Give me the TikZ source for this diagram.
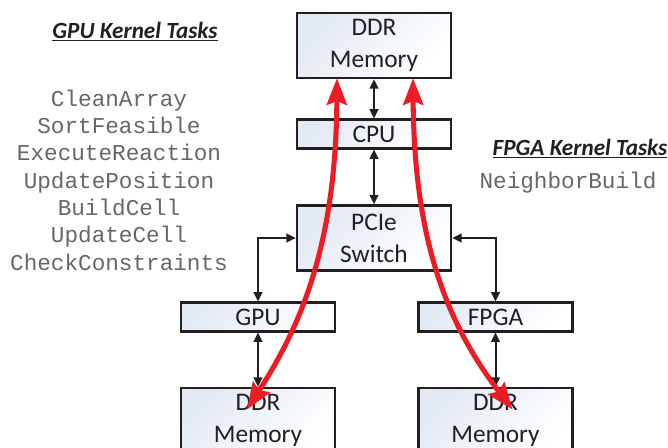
\documentclass[tikz,border=0pt]{standalone}
\usepackage{fontspec}
\setmainfont{Carlito}
\setmonofont{Liberation Mono}
\usetikzlibrary{arrows.meta}
\definecolor{boxline}{HTML}{231F20}
\definecolor{boxfill}{HTML}{E2E9F3}
\definecolor{taskgray}{HTML}{666666}
\definecolor{flowred}{HTML}{ED1C24}
\begin{document}
\begin{tikzpicture}[
    x=0.75pt, y=-0.75pt,
    block/.style={rectangle, draw=boxline, line width=1.8pt, left color=boxfill, right color=white, shading angle=45, minimum width=115.5pt, minimum height=48.75pt, align=center, font=\fontsize{19}{24}\selectfont, text=boxline},
    slim/.style={block, minimum height=21.5pt},
    arrow/.style={{Triangle[length=7pt,width=6.5pt]}-{Triangle[length=7pt,width=6.5pt]}, line width=1.5pt, draw=boxline},
    redarrow/.style={{Stealth[length=20pt,width=15pt,inset=3pt]}-{Stealth[length=20pt,width=15pt,inset=3pt]}, line width=3.8pt, draw=flowred},
    title/.style={font=\fontsize{17.4}{20}\selectfont\bfseries\itshape, text=boxline},
    tasks/.style={font=\fontsize{17}{20.5}\selectfont\ttfamily, text=taskgray, align=center}
]
    \useasboundingbox (0,0) rectangle (668,448);

    % Host side
    \node[block] (ddrtop) at (374,45.5) {DDR\\Memory};
    \node[slim] (cpu) at (374,134) {CPU};
    \node[block] (pcie) at (374,238) {PCIe\\Switch};

    % Accelerators
    \node[slim] (gpu) at (258,317) {GPU};
    \node[slim] (fpga) at (495.5,317) {FPGA};
    \node[block] (ddrgpu) at (258,420.5) {DDR\\Memory};
    \node[block] (ddrfpga) at (495.5,420.5) {DDR\\Memory};

    % Links
    \draw[arrow] (ddrtop) -- (cpu);
    \draw[arrow] (cpu) -- (pcie);
    \draw[arrow] (pcie.west) -| (gpu.north);
    \draw[arrow] (pcie.east) -| (fpga.north);
    \draw[arrow] (gpu) -- (ddrgpu);
    \draw[arrow] (fpga) -- (ddrfpga);

    % Data transfers
    \draw[redarrow] ([shift={(-37,-1)}]ddrtop.south) .. controls (336,250) and (298,330) .. ([shift={(-11,-11)}]ddrgpu.center);
    \draw[redarrow] ([shift={(39,-1)}]ddrtop.south) .. controls (414,250) and (452,330) .. ([shift={(17,-11)}]ddrfpga.center);

    % Kernel task lists
    \node[title] (gputitle) at (135,32) {\underline{GPU Kernel Tasks}};
    \node[tasks] (gputasks) at (119,180) {CleanArray\\SortFeasible\\ExecuteReaction\\UpdatePosition\\BuildCell\\UpdateCell\\CheckConstraints};
    \node[title] (fpgatitle) at (580,149) {\underline{FPGA Kernel Tasks}};
    \node[tasks] (fpgatasks) at (568,183) {NeighborBuild};
\end{tikzpicture}
\end{document}
